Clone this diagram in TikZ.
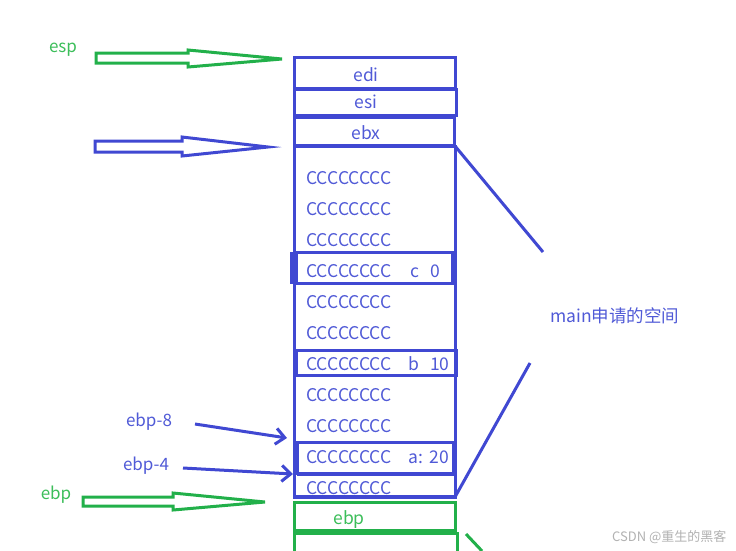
\documentclass[tikz,border=0pt]{standalone}
\usepackage{fontspec}
\setmainfont{Noto Sans CJK SC}
\usetikzlibrary{arrows.meta}
\definecolor{bl}{RGB}{64,72,210}
\definecolor{blt}{RGB}{80,90,215}
\definecolor{gr}{RGB}{34,176,74}
\definecolor{grt}{RGB}{60,190,90}
\tikzset{
  cell/.style={draw=bl, line width=3pt},
  gcell/.style={draw=gr, line width=3pt},
  ctext/.style={text=blt, font=\fontsize{17.5}{17.5}\selectfont, inner sep=0pt, anchor=west},
  lbl/.style={font=\fontsize{17}{17}\selectfont, inner sep=0pt},
  hollow/.style={line width=3pt, line join=miter},
  pointer/.style={draw=bl, line width=3pt, -{Straight Barb[length=9pt,width=16pt,line width=3pt]}},
  brace/.style={draw=bl, line width=3pt},
}
\begin{document}
\begin{tikzpicture}[x=1pt,y=-1pt]
\useasboundingbox (0,0) rectangle (736,550);
\fill[white] (0,0) rectangle (736,550);

% register cells
\draw[cell] (294,57) rectangle (455,88);
\node[ctext, anchor=center] (edi) at (366,75) {edi};
\draw[cell] (294,89) rectangle (456,115);
\node[ctext, anchor=center] (esi) at (366,102) {esi};
\draw[cell] (294,117) rectangle (454,146);
\node[ctext, anchor=center] (ebx) at (366,133) {ebx};

% main frame
\draw[cell] (294,146) rectangle (455,497);
\draw[bl, line width=4.5pt] (294,146) -- (455,146);
\draw[bl, line width=4.5pt] (294,497) -- (455,497);

% highlighted variable cells
\draw[cell] (296,252) rectangle (452,283);
\fill[bl] (290,252) rectangle (296,284);
\draw[cell] (296,350) rectangle (456,375);
\draw[cell] (297,442) rectangle (453,473);
\draw[bl, line width=4.5pt] (297,474) -- (455,474);

% row texts
\foreach \y/\n in {178/r1,209/r2,240/r3,271/r4,302/r5,333/r6,364/r7,395/r8,426/r9,457/r10,488/r11}
  \node[ctext] (\n) at (306,\y) {CCCCCCCC};
\node[ctext] (cv) at (410,271) {c\hspace{11pt}0};
\node[ctext] (bv) at (408,364) {b\hspace{11pt}10};
\node[ctext] (av) at (408,457) {a:\hspace{7pt}20};

% green ebp cells
\draw[gcell] (294,502) rectangle (455,530);
\node[text=grt, font=\fontsize{17.5}{17.5}\selectfont, inner sep=0pt] (ebpc) at (349,520) {ebp};
\draw[gcell] (294,533) rectangle (457,560);
\draw[gr, line width=3pt] (466,534) -- (482,551);

% main region brace lines
\coordinate (topR) at (455,146);
\coordinate (botR) at (455,497);
\coordinate (bend1) at (543,252);
\coordinate (bend2) at (530,363);
\draw[brace] (topR) -- (bend1);
\draw[brace] (botR) -- (bend2);
\node[text=blt, font=\fontsize{17.5}{17.5}\selectfont, inner sep=0pt, anchor=west] (mainlbl) at (550,316) {main申请的空间};

% hollow arrows
\draw[hollow, gr] (96,53) -- (188,53) -- (188,50) -- (282,59) -- (188,67) -- (188,63) -- (96,63) -- cycle;
\node[lbl, text=grt] (esp) at (63,50) {esp};
\draw[hollow, bl] (95,141) -- (182,141) -- (182,137) -- (268,147) -- (182,156) -- (182,152) -- (95,152) -- cycle;
\draw[hollow, gr] (83,497) -- (173,497) -- (173,493) -- (265,502) -- (173,510) -- (173,506) -- (83,506) -- cycle;
\node[lbl, text=grt] (ebpl) at (56,495) {ebp};

% pointer arrows
\node[lbl, text=blt] (e8) at (149,422) {ebp-8};
\node[lbl, text=blt] (e4) at (146,466) {ebp-4};
\coordinate (p8) at (287,438);
\coordinate (p4) at (293,474);
\draw[pointer] (195,424) -- (p8);
\draw[pointer] (183,468) -- (p4);

% watermark
\node[text=black!30, font=\fontsize{13}{13}\selectfont, inner sep=0pt, anchor=west] (wm) at (612,537) {CSDN @重生的黑客};
\end{tikzpicture}
\end{document}
